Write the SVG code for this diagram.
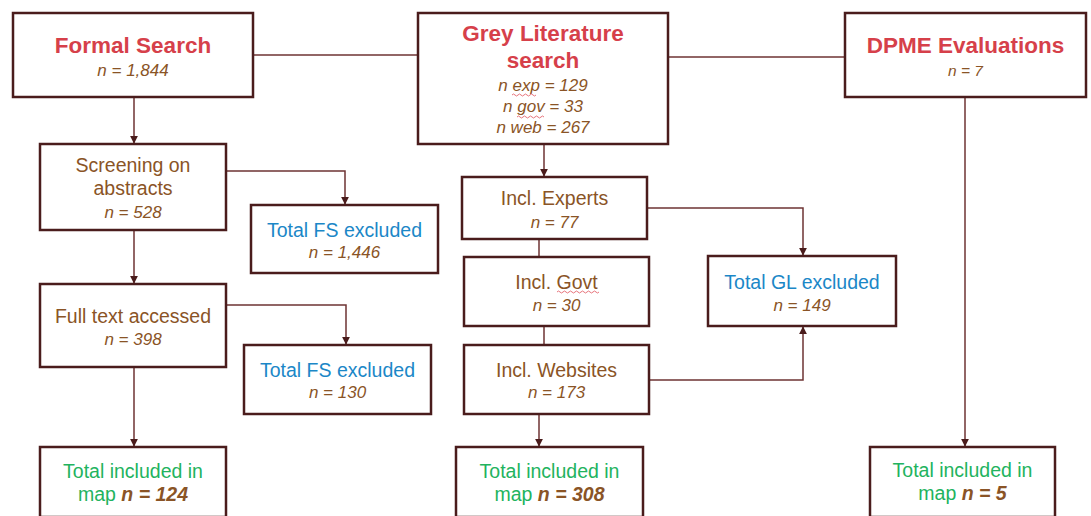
<svg xmlns="http://www.w3.org/2000/svg" width="1091" height="516" viewBox="0 0 1091 516">
<defs>
<style>
.box{fill:#fff;stroke:#4a1c1c;stroke-width:2.5}
.t{font-family:"Liberation Sans",Arial,sans-serif;text-anchor:middle}
.title{font-size:22.5px;font-weight:bold;fill:#d6404a}
.lbl{font-size:19.5px;fill:#8a5426}
.n{font-size:17px;font-style:italic;fill:#8a5426}
.blue{font-size:19.5px;fill:#1b87c7}
.green{font-size:19.5px;fill:#22b35e}
.nb{font-weight:bold;font-style:italic;fill:#8a5426}
.c{fill:none;stroke:#6e3333;stroke-width:1.5}
.sq{fill:none;stroke:#e0505a;stroke-width:0.8}
</style>
<marker id="ah" viewBox="0 0 10 10" refX="9" refY="5" markerWidth="8" markerHeight="8" markerUnits="userSpaceOnUse" orient="auto">
<path d="M0,0 L10,5 L0,10 z" fill="#4a1c1c"/>
</marker>
</defs>
<g id="connectors">
<path class="c" d="M253,55 H418"/>
<path class="c" d="M668,57 H845"/>
<path class="c" d="M134,97 V143" marker-end="url(#ah)"/>
<path class="c" d="M226,171 H345 V204" marker-end="url(#ah)"/>
<path class="c" d="M134,230 V283" marker-end="url(#ah)"/>
<path class="c" d="M226,305 H346 V344" marker-end="url(#ah)"/>
<path class="c" d="M134,367 V446" marker-end="url(#ah)"/>
<path class="c" d="M544,144 V176" marker-end="url(#ah)"/>
<path class="c" d="M647,208 H803 V255" marker-end="url(#ah)"/>
<path class="c" d="M539,239 V257"/>
<path class="c" d="M544,326 V345"/>
<path class="c" d="M649,380 H803 V327" marker-end="url(#ah)"/>
<path class="c" d="M539,414 V446" marker-end="url(#ah)"/>
<path class="c" d="M965,97 V446" marker-end="url(#ah)"/>
</g>
<g id="formal-search">
<rect class="box" x="13" y="13" width="240" height="84"/>
<text class="t title" x="133" y="53">Formal Search</text>
<text class="t n" x="133" y="76">n = 1,844</text>
</g>
<g id="grey-literature">
<rect class="box" x="418" y="13" width="250" height="131"/>
<text class="t title" x="543" y="41">Grey Literature</text>
<text class="t title" x="543" y="68">search</text>
<text class="t n" x="543" y="91">n exp = 129</text>
<text class="t n" x="543" y="112">n gov = 33</text>
<text class="t n" x="543" y="133">n web = 267</text>
<path class="sq" d="M512,95 q1.5,-2 3,0 t3,0 t3,0 t3,0 t3,0 t3,0 t3,0 t3,0"/>
<path class="sq" d="M517,117 q1.5,-2 3,0 t3,0 t3,0 t3,0 t3,0 t3,0 t3,0 t3,0 t3,0"/>
</g>
<g id="dpme">
<rect class="box" x="845" y="13" width="241" height="84"/>
<text class="t title" x="965.5" y="53">DPME Evaluations</text>
<text class="t n" x="965.5" y="76" style="font-size:15.5px">n = 7</text>
</g>
<g id="screening">
<rect class="box" x="40" y="144" width="186" height="86"/>
<text class="t lbl" x="133" y="172">Screening on</text>
<text class="t lbl" x="133" y="195">abstracts</text>
<text class="t n" x="133" y="218">n = 528</text>
</g>
<g id="fs-excluded-1">
<rect class="box" x="251" y="205" width="187" height="68"/>
<text class="t blue" x="344.5" y="237">Total FS excluded</text>
<text class="t n" x="344.5" y="258">n = 1,446</text>
</g>
<g id="full-text">
<rect class="box" x="40" y="284" width="186" height="83"/>
<text class="t lbl" x="133" y="323">Full text accessed</text>
<text class="t n" x="133" y="345">n = 398</text>
</g>
<g id="fs-excluded-2">
<rect class="box" x="244" y="345" width="187" height="69"/>
<text class="t blue" x="337.5" y="377">Total FS excluded</text>
<text class="t n" x="337.5" y="398">n = 130</text>
</g>
<g id="included-fs">
<rect class="box" x="40" y="447" width="186" height="70"/>
<text class="t green" x="133" y="478">Total included in</text>
<text class="t green" x="133" y="501">map <tspan class="nb">n = 124</tspan></text>
</g>
<g id="incl-experts">
<rect class="box" x="462" y="177" width="185" height="62"/>
<text class="t lbl" x="554.5" y="205">Incl. Experts</text>
<text class="t n" x="554.5" y="228">n = 77</text>
</g>
<g id="incl-govt">
<rect class="box" x="464" y="257" width="185" height="69"/>
<text class="t lbl" x="556.5" y="289">Incl. Govt</text>
<text class="t n" x="556.5" y="311">n = 30</text>
<path class="sq" d="M557,292 q1.5,-2 3,0 t3,0 t3,0 t3,0 t3,0 t3,0 t3,0 t3,0 t3,0 t3,0 t3,0 t3,0 t3,0 t3,0"/>
</g>
<g id="incl-websites">
<rect class="box" x="464" y="345" width="185" height="69"/>
<text class="t lbl" x="556.5" y="377">Incl. Websites</text>
<text class="t n" x="556.5" y="398">n = 173</text>
</g>
<g id="gl-excluded">
<rect class="box" x="708" y="256" width="188" height="70"/>
<text class="t blue" x="802" y="289">Total GL excluded</text>
<text class="t n" x="802" y="311">n = 149</text>
</g>
<g id="included-gl">
<rect class="box" x="456" y="447" width="187" height="70"/>
<text class="t green" x="549.5" y="478">Total included in</text>
<text class="t green" x="549.5" y="501">map <tspan class="nb">n = 308</tspan></text>
</g>
<g id="included-dpme">
<rect class="box" x="870" y="447" width="185" height="70"/>
<text class="t green" x="962.5" y="477">Total included in</text>
<text class="t green" x="962.5" y="500">map <tspan class="nb">n = 5</tspan></text>
</g>
</svg>
